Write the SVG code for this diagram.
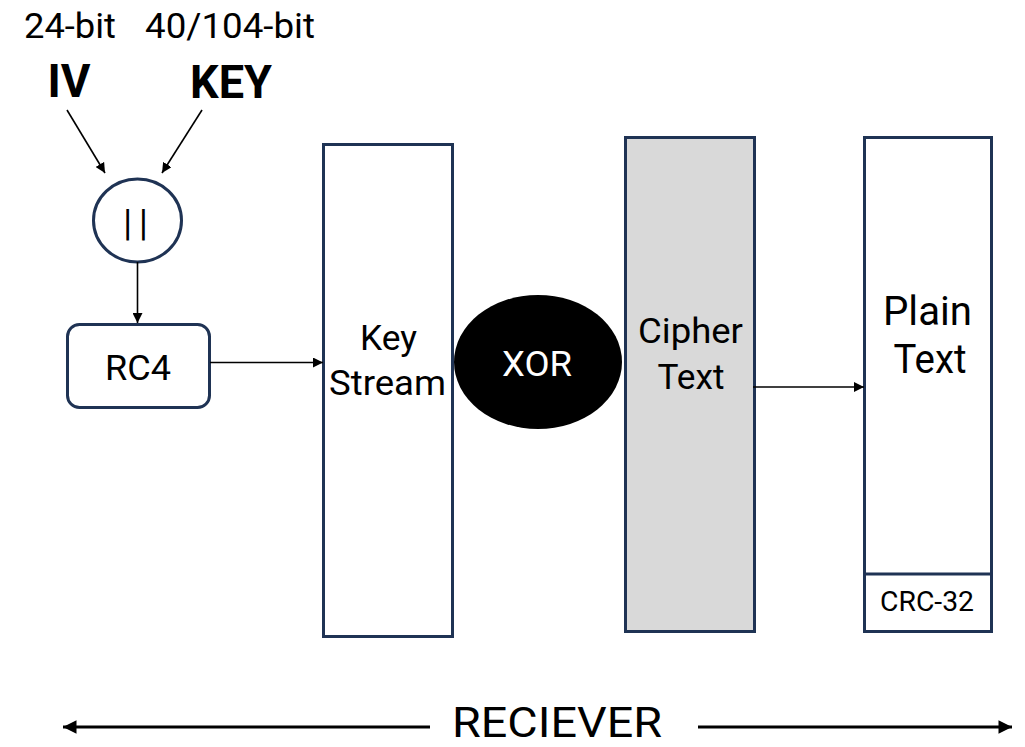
<svg xmlns="http://www.w3.org/2000/svg" width="1025" height="747" viewBox="0 0 1025 747">
  <style>
    text { font-family: Roboto, "Liberation Sans", sans-serif; fill: #000; text-anchor: middle; }
    .box { fill: #fff; stroke: #1f3354; stroke-width: 3; }
    .shaded { fill: #d9d9d9; stroke: #1f3354; stroke-width: 3; }
    .wire { fill: none; stroke: #000; stroke-width: 1.6; }
    .span { fill: none; stroke: #000; stroke-width: 3; }
    .bits { font-size: 35px; }
    .name { font-size: 46px; font-weight: bold; }
    .label { font-size: 35px; }
  </style>
  <defs>
    <marker id="tip" viewBox="0 0 10 10" refX="10" refY="5" markerWidth="10" markerHeight="10" markerUnits="userSpaceOnUse" orient="auto">
      <path d="M0,0 L10,5 L0,10 z" fill="#000"/>
    </marker>
    <marker id="bigtip" viewBox="0 0 10 10" refX="10" refY="5" markerWidth="5" markerHeight="4.5" orient="auto-start-reverse">
      <path d="M0,0 L10,5 L0,10 z" fill="#000"/>
    </marker>
  </defs>

  <!-- inputs -->
  <g id="iv">
    <text class="bits" x="70" y="38" textLength="92" lengthAdjust="spacingAndGlyphs">24-bit</text>
    <text class="name" x="69" y="97" textLength="43" lengthAdjust="spacingAndGlyphs">IV</text>
  </g>
  <g id="key">
    <text class="bits" x="230" y="38" textLength="170" lengthAdjust="spacingAndGlyphs">40/104-bit</text>
    <text class="name" x="231" y="98" textLength="82" lengthAdjust="spacingAndGlyphs">KEY</text>
  </g>

  <!-- concatenation -->
  <g id="concat">
    <ellipse class="box" cx="137.5" cy="220.5" rx="44" ry="41.5"/>
    <text x="139" y="235" style="font-size:36px;letter-spacing:7px">||</text>
  </g>

  <!-- RC4 generator -->
  <g id="rc4">
    <rect class="box" x="67.5" y="324.5" width="142" height="83" rx="12"/>
    <text class="label" x="138" y="380" textLength="66" lengthAdjust="spacingAndGlyphs">RC4</text>
  </g>

  <!-- key stream -->
  <g id="keystream">
    <rect class="box" x="323.5" y="144.5" width="129" height="492"/>
    <text class="label" x="388.5" y="350" textLength="57" lengthAdjust="spacingAndGlyphs">Key</text>
    <text class="label" x="387.5" y="395" textLength="117" lengthAdjust="spacingAndGlyphs">Stream</text>
  </g>

  <!-- XOR -->
  <g id="xor">
    <ellipse cx="538" cy="362" rx="84" ry="67" fill="#000"/>
    <text class="label" x="537" y="376" textLength="70" lengthAdjust="spacingAndGlyphs" style="fill:#fff">XOR</text>
  </g>

  <!-- cipher text -->
  <g id="ciphertext">
    <rect class="shaded" x="625.5" y="137.5" width="129" height="494"/>
    <text class="label" x="690.5" y="343" textLength="105" lengthAdjust="spacingAndGlyphs">Cipher</text>
    <text class="label" x="691" y="389" textLength="67" lengthAdjust="spacingAndGlyphs">Text</text>
  </g>

  <!-- plain text with CRC -->
  <g id="plaintext">
    <rect class="box" x="864.5" y="137.5" width="127" height="494"/>
    <line class="box" x1="864.5" y1="574" x2="991.5" y2="574"/>
    <text x="927.5" y="325" textLength="89" lengthAdjust="spacingAndGlyphs" style="font-size:41px">Plain</text>
    <text x="930" y="373" textLength="73" lengthAdjust="spacingAndGlyphs" style="font-size:41px">Text</text>
    <text x="927" y="611" textLength="94" lengthAdjust="spacingAndGlyphs" style="font-size:27px">CRC-32</text>
  </g>

  <!-- receiver span -->
  <g id="receiver">
    <text x="557" y="737" textLength="210" lengthAdjust="spacingAndGlyphs" style="font-size:42px">RECIEVER</text>
  </g>

  <g id="connectors">
    <line class="wire" x1="67" y1="110" x2="105" y2="173" marker-end="url(#tip)"/>
    <line class="wire" x1="202" y1="110" x2="162" y2="173" marker-end="url(#tip)"/>
    <line class="wire" x1="137.5" y1="262" x2="137.5" y2="323" marker-end="url(#tip)"/>
    <line class="wire" x1="210" y1="362.5" x2="323" y2="362.5" marker-end="url(#tip)"/>
    <line class="wire" x1="753" y1="387" x2="864" y2="387" marker-end="url(#tip)"/>
    <line class="span" x1="63" y1="727" x2="430" y2="727" marker-start="url(#bigtip)"/>
    <line class="span" x1="698" y1="727" x2="1012" y2="727" marker-end="url(#bigtip)"/>
  </g>
</svg>
